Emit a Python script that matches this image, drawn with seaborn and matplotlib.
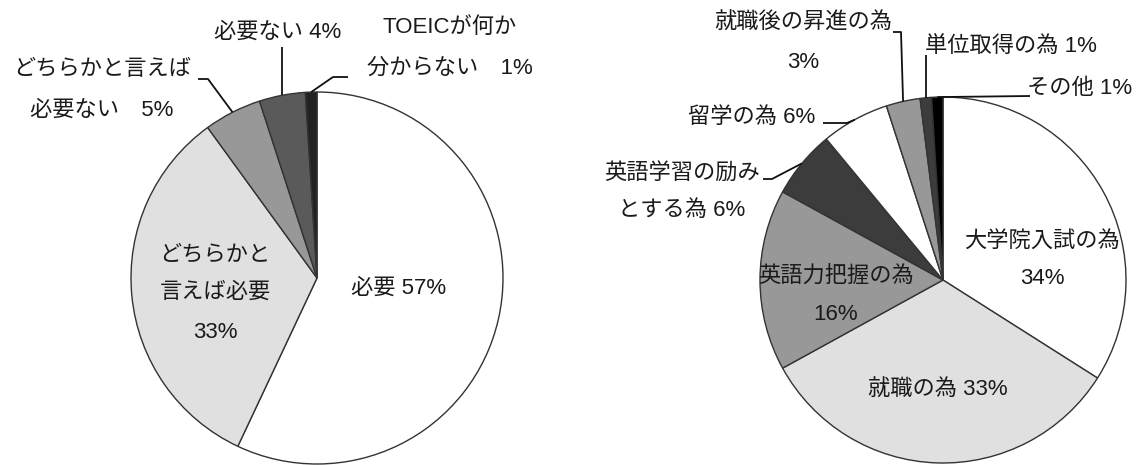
import numpy as np
import matplotlib
matplotlib.use("Agg")
import matplotlib.pyplot as plt
import seaborn as sns

# ---------------- data ----------------
cats_left = ["必要", "どちらかと言えば必要", "どちらかと言えば必要ない", "必要ない", "TOEICが何か分からない"]
vals_left = [57, 33, 5, 4, 1]
colors_left = ["#ffffff", "#e0e0e0", "#989898", "#5a5a5a", "#222222"]

cats_right = ["大学院入試の為", "就職の為", "英語力把握の為", "英語学習の励みとする為",
              "留学の為", "就職後の昇進の為", "単位取得の為", "その他"]
vals_right = [34, 33, 16, 6, 6, 3, 1, 1]
colors_right = ["#ffffff", "#e0e0e0", "#989898", "#3c3c3c",
                "#ffffff", "#989898", "#3c3c3c", "#000000"]

# label lines (text) for each slice
labels_left = [["必要 57%"], ["どちらかと", "言えば必要", "33%"],
               ["どちらかと言えば", "必要ない\u30005%"], ["必要ない 4%"],
               ["TOEICが何か", "分からない\u30001%"]]
labels_right = [["大学院入試の為", "34%"], ["就職の為 33%"], ["英語力把握の為", "16%"],
                ["英語学習の励み", "とする為 6%"], ["留学の為 6%"],
                ["就職後の昇進の為", "3%"], ["単位取得の為 1%"], ["その他 1%"]]

# ---------------- layout (pixel coords, y from top) ----------------
W, H = 1137, 465
left_center, left_r = (317, 278), 186
right_center, right_r = (943, 280), 183

lay_left = [
    dict(x=399, y=[288]),
    dict(x=215, y=[255, 292, 332]),
    dict(x=102, y=[70, 110], lead=[(198, 79), (208, 79)]),
    dict(x=278, y=[32], lead=["vx", 47]),
    dict(x=450, y=[27, 68], lead=[(348, 77), (333, 77)]),
]
lay_right = [
    dict(x=1042, y=[242, 278]),
    dict(x=938, y=[390]),
    dict(x=836, y=[277, 315]),
    dict(x=682, y=[173, 210], lead=[(763, 179), (772, 179)]),
    dict(x=752, y=[117], lead=[(823, 123), (847, 123)]),
    dict(x=803, y=[23, 63], lead=[(893, 32), (901, 32)]),
    dict(x=1011, y=[47], lead=["vx", 55]),
    dict(x=1080, y=[88], lead=[(1030, 96)]),
]

sns.set_theme(style="white")
plt.rcParams['font.family'] = ['Liberation Sans', 'Noto Sans CJK JP', 'DejaVu Sans']

fig = plt.figure(figsize=(W / 100, H / 100), dpi=100)
fig.patch.set_facecolor("white")
ax = fig.add_axes([0, 0, 1, 1])

FS = 16
TXT = "#1a1a1a"


def draw(vals, colors, labels, lay, center, r):
    cy = H - center[1]
    wedges, _ = ax.pie(vals, colors=colors, startangle=90, counterclock=False,
                       center=(center[0], cy), radius=r,
                       wedgeprops=dict(edgecolor="#333333", linewidth=1.0))
    for w, lines, L in zip(wedges, labels, lay):
        for t, yy in zip(lines, L["y"]):
            ax.text(L["x"], H - yy, t, ha="center", va="center",
                    fontsize=FS, color=TXT)
        if "lead" in L:
            mid = np.deg2rad((w.theta1 + w.theta2) / 2)
            axp = center[0] + r * np.cos(mid)
            ayp = cy + r * np.sin(mid)
            if L["lead"][0] == "vx":
                pts = [(axp, H - L["lead"][1])]
            else:
                pts = [(px, H - py) for px, py in L["lead"]]
            pts.append((axp, ayp))
            xs, ys = zip(*pts)
            ax.plot(xs, ys, color="#111111", lw=1.3, solid_capstyle="butt")


draw(vals_left, colors_left, labels_left, lay_left, left_center, left_r)
draw(vals_right, colors_right, labels_right, lay_right, right_center, right_r)

ax.set_xlim(0, W)
ax.set_ylim(0, H)
ax.set_aspect("equal")
ax.axis("off")

fig.savefig("out.png", dpi=100, facecolor="white")
